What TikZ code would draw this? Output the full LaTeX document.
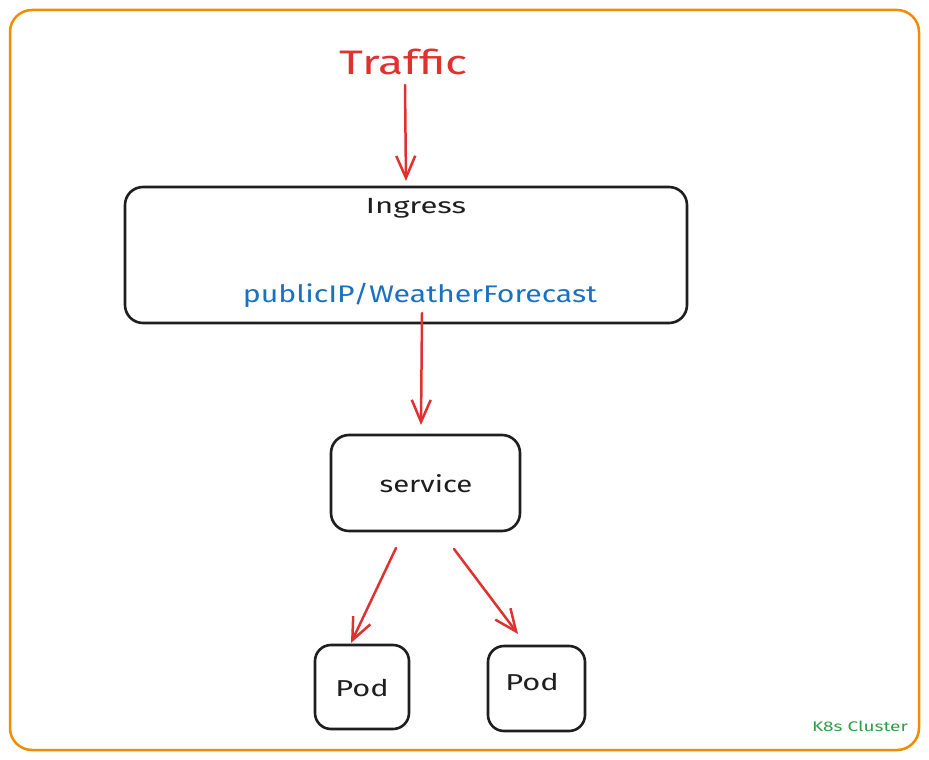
\documentclass[tikz,border=0pt]{standalone}
\usepackage{fontspec}
\usepackage{graphicx}
\setmainfont{Fira Sans}
\usetikzlibrary{arrows.meta}
\definecolor{frameorange}{HTML}{F08C00}
\definecolor{arrowred}{HTML}{E03131}
\definecolor{textblue}{HTML}{1971C2}
\definecolor{textgreen}{HTML}{2F9E44}
\definecolor{inkblack}{HTML}{1E1E1E}
\tikzset{
  boxnode/.style={draw=inkblack, line width=2.6pt, rounded corners=18pt, inner sep=0pt},
  flow/.style={draw=arrowred, line width=2.5pt, line cap=round, -{Straight Barb[length=22pt,width=19pt,line width=2.5pt]}},
  label/.style={inner sep=0pt, anchor=center}
}
\begin{document}
\begin{tikzpicture}[x=1pt,y=-1pt]
\useasboundingbox (0,0) rectangle (929,760);
\fill[white] (0,0) rectangle (929,760);
\draw[frameorange, line width=2.5pt, rounded corners=22pt] (10,10) rectangle (919,750);
\node[label, text=arrowred, font=\fontsize{34}{40}\selectfont] (traffic) at (404,62) {\scalebox{1.36}[1]{Traffic}};
\node[boxnode, minimum width=562pt, minimum height=136pt] (ingress) at (406,255) {};
\node[label, text=inkblack, font=\fontsize{22}{26}\selectfont] (ingtxt) at (416,208) {\scalebox{1.41}[1]{Ingress}};
\node[label, text=textblue, font=\fontsize{24}{28}\selectfont] (route) at (420,295) {\scalebox{1.26}[1]{publicIP/WeatherForecast}};
\node[boxnode, minimum width=189pt, minimum height=96pt] (service) at (425.5,483) {};
\node[label, text=inkblack, font=\fontsize{23}{27}\selectfont] (svctxt) at (426,484) {\scalebox{1.27}[1]{service}};
\node[boxnode, minimum width=94pt, minimum height=84pt, rounded corners=16pt] (pod1) at (362,687) {};
\node[label, text=inkblack, font=\fontsize{23}{27}\selectfont] (pod1txt) at (362,688) {\scalebox{1.34}[1]{Pod}};
\node[boxnode, minimum width=97pt, minimum height=85pt, rounded corners=16pt] (pod2) at (536.5,688.5) {};
\node[label, text=inkblack, font=\fontsize{23}{27}\selectfont] (pod2txt) at (532,682) {\scalebox{1.34}[1]{Pod}};
\node[label, text=textgreen, font=\fontsize{14}{17}\selectfont] (cluster) at (860,726) {\scalebox{1.36}[1]{K8s Cluster}};
\coordinate (t0) at (405,85);
\coordinate (t1) at (406,181);
\coordinate (i0) at (422,313);
\coordinate (i1) at (421,425);
\coordinate (s0) at (396,548);
\coordinate (s1) at (351,643);
\coordinate (s2) at (454,549);
\coordinate (s3) at (518,634);
\draw[flow] (t0) -- (t1);
\draw[flow] (i0) -- (i1);
\draw[flow] (s0) -- (s1);
\draw[flow] (s2) -- (s3);
\end{tikzpicture}
\end{document}
